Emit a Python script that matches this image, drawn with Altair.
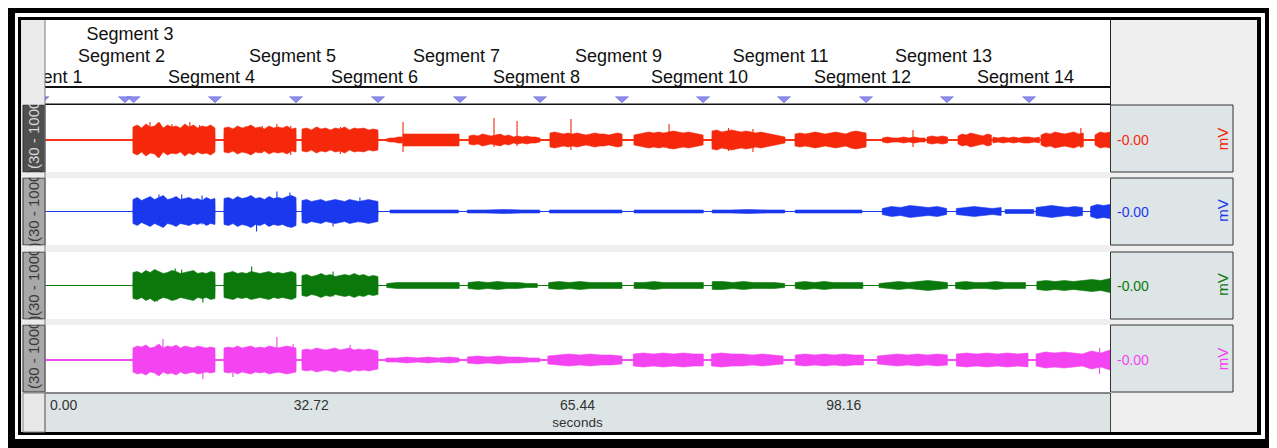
import altair as alt
import pandas as pd

# ---------------------------------------------------------------- data
T_MAX = 130.88                                   # seconds shown
TICK_VALUES = [0.0, 32.72, 65.44, 98.16]
TICK_LABELS = ["0.00", "32.72", "65.44", "98.16"]
X_TITLE = "seconds"

SEG_NAMES = ["Segment 1", "Segment 2", "Segment 3", "Segment 4", "Segment 5",
             "Segment 6", "Segment 7", "Segment 8", "Segment 9", "Segment 10",
             "Segment 11", "Segment 12", "Segment 13", "Segment 14"]
SEG_TIMES = [-0.31, 9.83, 10.88, 20.89, 30.85, 40.92, 51.00, 60.83, 70.91,
             80.87, 90.82, 100.90, 110.85, 120.93]
SEG_ROWS = [3, 2, 1, 3, 2, 3, 2, 3, 2, 3, 2, 3, 2, 3]

CH_FILTER = ["(30 - 1000)", "(30 - 1000)", "(30 - 1000)", "(30 - 1000)"]
CH_READOUT = ["-0.00", "-0.00", "-0.00", "-0.00"]
CH_UNIT = ["mV", "mV", "mV", "mV"]

# EMG envelopes: (start s, end s, half-amplitudes read across the burst)
BURSTS_1 = [
    (10.81, 20.89, [13, 15, 12, 16, 13, 14, 18, 12, 15, 13, 14, 12, 16, 13, 15, 12, 14, 13, 15, 12]),
    (22.00, 30.85, [12, 13, 11, 14, 12, 13, 15, 12, 13, 11, 14, 12, 13, 12, 14, 11, 12]),
    (31.58, 40.92, [11, 12, 10, 13, 11, 12, 10, 12, 11, 13, 10, 12, 11, 12, 10, 11, 10]),
    (41.90, 43.90, [1, 2, 2, 3, 3]),
    (44.00, 50.88, [6, 6, 6, 6]),
    (52.11, 60.83, [4, 5, 4, 6, 5, 4, 5, 6, 4, 5, 3, 4, 3, 4, 3, 3, 2]),
    (62.06, 70.91, [7, 8, 7, 6, 7, 6, 7, 6, 5, 6, 7, 6, 6, 5, 6, 7, 6]),
    (72.38, 80.87, [5, 6, 7, 8, 7, 8, 7, 8, 9, 8, 7, 8, 7, 6, 5]),
    (81.97, 90.94, [9, 10, 8, 9, 10, 9, 8, 9, 8, 7, 8, 7, 6, 5, 4, 3]),
    (92.17, 100.90, [6, 7, 6, 7, 8, 7, 6, 7, 8, 7, 6, 8, 9, 8, 7]),
    (102.90, 108.15, [2, 3, 2, 2, 3, 2, 3, 2, 2]),
    (108.40, 110.90, [3, 4, 3, 4, 3]),
    (112.20, 116.30, [4, 6, 5, 7, 6, 5, 4, 6, 5]),
    (116.50, 122.20, [3, 2, 3, 2, 3, 2, 3, 3, 2, 3]),
    (122.40, 127.60, [5, 7, 6, 8, 7, 6, 7, 8, 6, 7]),
    (129.04, 130.88, [5, 8, 7, 8]),
]
SPIKES_1 = [(12.9, 18, 11), (13.8, 12, 17), (14.1, 17, 12), (15.6, 16, 14), (17.8, 18, 11),
            (19.0, 15, 13), (24.7, 14, 12), (26.7, 14, 13), (28.5, 16, 12), (30.2, 14, 15),
            (33.5, 13, 12), (36.3, 13, 14), (38.7, 12, 12), (44.0, 18, 12), (55.18, 22, 7),
            (58.01, 19, 6), (64.64, 21, 10), (76.69, 16, 9), (84.0, 12, 11), (87.0, 11, 12),
            (106.67, 10, 7), (127.30, 12, 8)]

BURSTS_2 = [
    (10.81, 20.89, [12, 14, 11, 13, 15, 12, 14, 16, 12, 13, 15, 12, 13, 14, 12, 13, 11, 14, 12, 13]),
    (22.00, 30.85, [13, 14, 12, 15, 13, 14, 16, 13, 14, 12, 15, 13, 14, 13, 15, 16, 14]),
    (31.58, 40.92, [11, 12, 10, 11, 12, 10, 11, 12, 11, 10, 12, 11, 10, 11, 12, 11, 10]),
    (42.40, 50.80, [1.5, 1.5, 1.5, 1.5, 1.5]),
    (51.90, 60.80, [1.5, 1.5, 2, 1.5, 1.5]),
    (62.00, 70.90, [1.5, 1.5, 1.5, 1.5, 1.5]),
    (72.40, 80.90, [1.5, 1.5, 1.5, 1.5, 1.5]),
    (82.00, 90.90, [1.5, 1.5, 2, 1.5, 1.5]),
    (92.20, 100.40, [1.5, 1.5, 1.5, 1.5, 1.5]),
    (102.90, 110.80, [3, 5, 4, 6, 5, 4, 5, 3]),
    (112.00, 117.50, [3, 4, 5, 4, 3, 4]),
    (118.00, 121.50, [2, 2, 2]),
    (121.80, 127.50, [4, 5, 6, 5, 4, 5, 4]),
    (128.50, 130.88, [5, 7, 6, 7]),
]
SPIKES_2 = [(14.0, 17, 11), (16.8, 17, 12), (19.3, 16, 13), (26.0, 12, 20), (28.5, 20, 12),
            (30.1, 19, 12), (35.4, 10, 15), (38.7, 14, 11)]

BURSTS_3 = [
    (10.81, 20.89, [13, 14, 12, 15, 13, 16, 14, 12, 13, 15, 14, 12, 13, 14, 15, 12, 13, 12, 14, 13]),
    (22.00, 30.85, [12, 13, 14, 12, 13, 12, 14, 13, 12, 13, 14, 12, 13, 12, 13, 14, 12]),
    (31.58, 40.92, [10, 11, 9, 10, 12, 10, 11, 9, 10, 11, 10, 12, 10, 11, 9, 10, 9]),
    (42.00, 50.90, [2, 3, 3, 3, 3, 3, 3, 3]),
    (52.00, 60.50, [3, 4, 3, 4, 3, 3, 2, 2]),
    (61.90, 70.90, [3, 4, 3, 4, 3, 3, 3, 3]),
    (72.40, 80.90, [3, 3, 4, 3, 3, 3, 3, 3]),
    (82.00, 90.90, [4, 4, 3, 4, 3, 3, 3, 2]),
    (92.20, 100.50, [3, 4, 3, 4, 3, 3, 3, 3]),
    (102.50, 110.90, [2, 3, 4, 3, 4, 5, 4, 3]),
    (111.90, 120.50, [3, 4, 3, 3, 4, 3, 3, 3]),
    (121.90, 130.88, [4, 5, 4, 5, 4, 5, 6, 5, 7]),
]
SPIKES_3 = [(13.8, 12, 16), (16.0, 17, 12), (16.8, 16, 12), (19.4, 12, 17), (25.4, 19, 11),
            (35.4, 14, 11)]

BURSTS_4 = [
    (10.81, 20.89, [12, 14, 13, 15, 12, 13, 16, 12, 14, 13, 15, 12, 14, 13, 12, 14, 13, 12, 13, 12]),
    (22.00, 30.85, [12, 13, 12, 14, 12, 13, 14, 12, 13, 12, 14, 13, 12, 13, 14, 13, 12]),
    (31.58, 40.92, [10, 11, 10, 12, 11, 10, 11, 12, 10, 11, 12, 10, 11, 10, 11, 10, 9]),
    (41.90, 50.90, [2, 2, 3, 2, 3, 2, 3, 2]),
    (51.90, 60.80, [3, 4, 3, 4, 3, 3, 2, 2]),
    (61.80, 70.90, [4, 5, 6, 5, 6, 5, 5, 4]),
    (72.30, 80.90, [6, 7, 6, 7, 6, 7, 6, 6]),
    (81.90, 90.70, [6, 7, 6, 6, 5, 6, 5, 4]),
    (92.20, 100.60, [5, 6, 5, 6, 5, 6, 5, 5]),
    (102.30, 110.90, [4, 5, 6, 5, 6, 5, 6, 5]),
    (112.00, 120.80, [6, 7, 6, 7, 6, 7, 6, 7]),
    (121.80, 130.88, [6, 8, 7, 8, 7, 6, 9, 7, 10]),
]
SPIKES_4 = [(14.5, 21, 12), (19.4, 12, 19), (23.1, 12, 17), (28.5, 23, 13), (30.5, 16, 12),
            (37.5, 15, 11), (129.6, 12, 14)]

CHANNELS = [
    ("#f5280c", BURSTS_1, SPIKES_1, 2.0),
    ("#1a38ee", BURSTS_2, SPIKES_2, 1.2),
    ("#0b780b", BURSTS_3, SPIKES_3, 1.2),
    ("#f444f2", BURSTS_4, SPIKES_4, 2.0),
]

# ---------------------------------------------------------------- layout (page px)
OFF = 8
FONT = "Liberation Sans"
PLOT_L, PLOT_R = 45, 1110
LANES = [(105, 172), (178, 245), (252, 319), (325, 392)]
CENTERS = [140, 211.5, 285.5, 360]
HALF = 33
RIGHT = 1269  # page x where the drawing ends

ONE = pd.DataFrame({"k": [0]})


def box(x1, y1, x2, y2, fill, stroke=None, sw=1.0):
    kw = {"fill": fill}
    if stroke:
        kw.update(stroke=stroke, strokeWidth=sw)
    else:
        kw.update(strokeWidth=0)
    return alt.Chart(ONE).mark_rect(**kw).encode(
        x=alt.value(x1 - OFF), x2=alt.value(x2 - OFF),
        y=alt.value(y1 - OFF), y2=alt.value(y2 - OFF))


def label(txt, x, y, color, size, **kw):
    return alt.Chart(ONE).mark_text(text=txt, font=FONT, fontSize=size, color=color, **kw).encode(
        x=alt.value(x - OFF), y=alt.value(y - OFF))


XS = alt.Scale(domain=[0, T_MAX], range=[PLOT_L - OFF, PLOT_R - OFF], nice=False, zero=False)


def yscale(i):
    c = CENTERS[i] - OFF
    return alt.Scale(domain=[-HALF, HALF], range=[c + HALF, c - HALF], nice=False, zero=False)


def envelope(bursts):
    rows = [(0.0, 0.0)]
    for s, e, amps in bursts:
        n = len(amps)
        rows.append((s - 0.02, 0.0))
        for i, a in enumerate(amps):
            rows.append((s + (e - s) * i / (n - 1), a))
        rows.append((e + 0.02, 0.0))
    rows.append((T_MAX, 0.0))
    df = pd.DataFrame(rows, columns=["t", "a"])
    df["lo"] = -df["a"]
    df["hi"] = df["a"]
    return df


layers = []
# frame
layers += [
    box(8, 8, RIGHT, 448, "#000000"),
    box(15, 13, 1265, 439, "#ffffff"),
    box(18, 17, 1261, 435, "#000000"),
    box(21, 20, 1257, 432, "#efefef"),
]
# header + lanes + axis band
layers.append(box(PLOT_L, 20, PLOT_R, 104, "#ffffff"))
for (a, b) in LANES:
    layers.append(box(PLOT_L, a, PLOT_R, b, "#ffffff"))
layers.append(box(PLOT_L, 393, PLOT_R, 432, "#dce4e6"))

# data marks
for i, (col, bursts, spikes, lw) in enumerate(CHANNELS):
    ys = yscale(i)
    env = envelope(bursts)
    layers.append(alt.Chart(pd.DataFrame({"t0": [0.0], "t1": [T_MAX], "v": [0.0]})).mark_rule(
        color=col, strokeWidth=lw, opacity=0.9).encode(
        x=alt.X("t0:Q", scale=XS, axis=None), x2="t1:Q",
        y=alt.Y("v:Q", scale=ys, axis=None)))
    layers.append(alt.Chart(env).mark_area(color=col, opacity=1, interpolate="linear",
                                           stroke=col, strokeWidth=0.6).encode(
        x=alt.X("t:Q", scale=XS, axis=None),
        y=alt.Y("lo:Q", scale=ys, axis=None), y2="hi:Q"))
    sp = pd.DataFrame(spikes, columns=["t", "up", "down"])
    sp["dn"] = -sp["down"]
    layers.append(alt.Chart(sp).mark_rule(color=col, strokeWidth=1.1).encode(
        x=alt.X("t:Q", scale=XS, axis=None),
        y=alt.Y("up:Q", scale=ys, axis=None), y2="dn:Q"))

# segment markers and names
seg = pd.DataFrame({"t": SEG_TIMES, "name": SEG_NAMES, "row": SEG_ROWS})
TRI = "M-1,-0.45L1,-0.45L0,0.45Z"
layers.append(alt.Chart(seg).mark_point(shape=TRI, size=169, filled=True, fill="#8c8cf0",
                                        stroke="#6a6ad0", strokeWidth=0.6, opacity=1).encode(
    x=alt.X("t:Q", scale=XS, axis=None), y=alt.value(99.7 - OFF)))
layers.append(alt.Chart(seg).mark_text(font=FONT, fontSize=18, color="#111111", align="center",
                                       baseline="alphabetic", dx=-3.5).encode(
    x=alt.X("t:Q", scale=XS, axis=None),
    y=alt.Y("row:Q", scale=alt.Scale(domain=[1, 3], range=[40 - OFF, 83.3 - OFF], nice=False, zero=False),
            axis=None),
    text="name:N"))

# header lines
layers += [
    box(PLOT_L, 86, PLOT_R, 88, "#111111"),
    box(PLOT_L, 103.5, PLOT_R, 105, "#111111"),
    box(PLOT_L, 392.5, PLOT_R, 393.5, "#222222"),
]

# left column (mask + channel labels)
layers.append(box(21, 20, PLOT_L, 432, "#e6e6e6"))
layers.append(box(23, 20, PLOT_L, 104, "#eeeeee"))
for i, (a, b) in enumerate(LANES):
    dark = i == 0
    layers.append(box(23, a, PLOT_L, b, "#4f4f4f" if dark else "#a8a8a8", "#333333", 1))
    layers.append(alt.Chart(ONE).mark_text(text=CH_FILTER[i], font=FONT, fontSize=15, angle=270,
                                           align="left", baseline="middle",
                                           color="#d8d8d8" if dark else "#3a3a3a").encode(
        x=alt.value(34 - OFF), y=alt.value(b - 3 - OFF)))
gaps = [(20, 104.5)] + [(LANES[k][1] + 0.5, LANES[k + 1][0] - 0.5) for k in range(3)]
for (a, b) in gaps:
    layers.append(box(22, a, PLOT_L, b, "#ebebeb"))
layers.append(box(23, 393, PLOT_L, 432, "#e8e8e8", "#888888", 1))
layers.append(box(44.5, 20, 45.5, 432, "#7a7a7a"))
# re-draw left frame strips over anything that spilled left
layers += [
    box(8, 8, 15, 448, "#000000"),
    box(15, 13, 18, 439, "#ffffff"),
    box(18, 17, 21, 435, "#000000"),
]

# right panel (mask + readouts)
layers.append(box(PLOT_R, 20, 1257, 432, "#efefef"))
layers.append(box(PLOT_R, 20, PLOT_R + 1, 105, "#222222"))
layers.append(box(PLOT_R, 393, PLOT_R + 1, 432, "#444444"))
for i, (a, b) in enumerate(LANES):
    col = CHANNELS[i][0]
    layers.append(box(PLOT_R + 0.5, a, 1233, b, "#dde5e7", "#333333", 1))
    layers.append(label(CH_READOUT[i], 1117, CENTERS[i] + 1, col, 14, align="left", baseline="middle"))
    layers.append(label(CH_UNIT[i], 1223, CENTERS[i] - 1, col, 15, align="center", baseline="middle",
                        angle=270))

# time axis labels
ticks = pd.DataFrame({"t": TICK_VALUES, "lab": TICK_LABELS})
layers.append(alt.Chart(ticks.iloc[:1]).mark_text(font=FONT, fontSize=14, color="#333333", align="left",
                                                   baseline="middle", dx=5).encode(
    x=alt.X("t:Q", scale=XS, axis=None), y=alt.value(405.5 - OFF), text="lab:N"))
layers.append(alt.Chart(ticks.iloc[1:]).mark_text(font=FONT, fontSize=14, color="#333333", align="center",
                                                   baseline="middle").encode(
    x=alt.X("t:Q", scale=XS, axis=None), y=alt.value(405.5 - OFF), text="lab:N"))
layers.append(alt.Chart(pd.DataFrame({"t": [T_MAX / 2], "lab": [X_TITLE]})).mark_text(
    font=FONT, fontSize=13.5, color="#333333", align="center", baseline="middle").encode(
    x=alt.X("t:Q", scale=XS, axis=None), y=alt.value(423 - OFF), text="lab:N"))

chart = alt.layer(*layers).resolve_scale(y="independent").properties(
    width=RIGHT - OFF, height=440, autosize=alt.AutoSizeParams(type="none"), padding=0,
    background="#ffffff",
).configure_view(strokeWidth=0)

chart.save("out.html", embed_options={"renderer": "svg", "actions": False})
